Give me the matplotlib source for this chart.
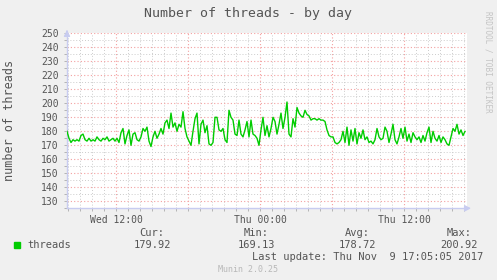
import numpy as np
import matplotlib
matplotlib.use("Agg")
import matplotlib.pyplot as plt

# threads, one sample every 10 minutes, first sample Wed 07:55
threads = [
    180, 175, 172, 174, 173, 174, 173, 177, 178, 174, 173, 175, 173, 174, 173, 176, 174, 173, 175, 174, 176, 173, 174, 175, 173,
    175, 172, 179, 182, 171, 177, 181, 170, 178, 179, 174, 173, 176, 182, 180, 183, 173, 169.13, 176, 180, 175, 178, 182, 178, 186,
    188, 182, 193, 183, 186, 180, 185, 183, 194, 182, 176, 173, 170, 180, 189, 193, 171, 185, 188, 179, 184, 171, 170, 172, 190,
    190, 181, 180, 182, 174, 172, 195, 190, 188, 178, 177, 188, 178, 176, 181, 187, 176, 188, 178, 177, 175, 170, 181, 190, 177,
    184, 176, 182, 190, 187, 178, 185, 193, 182, 190, 200.92, 178, 176, 189, 183, 197, 193, 191, 190, 195, 192, 191, 188, 189, 189,
    188, 189, 188, 188, 187, 181, 177, 176, 176, 172, 171, 172, 174, 180, 172, 183, 170, 181, 173, 182, 171, 179, 175, 181, 174,
    176, 172, 173, 171, 174, 182, 176, 174, 175, 183, 180, 172, 178, 185, 174, 171, 176, 182, 175, 183, 173, 178, 172, 179, 176,
    174, 176, 172, 177, 173, 179, 183, 172, 180, 175, 173, 177, 172, 176, 174, 171, 170, 176, 182, 180, 185, 178, 181, 177, 179.92,
]
start_hour = -16.083   # hours relative to Thu 00:00
step_hour = 1 / 6.0
x_range = (-16.083, 17.25)

tick_hours = [-12, -6, 0, 6, 12]
tick_labels = ["Wed 12:00", "", "Thu 00:00", "", "Thu 12:00"]
y_ticks = list(range(130, 251, 10))

legend_cols = ["Cur:", "Min:", "Avg:", "Max:"]
legend_vals = ["179.92", "169.13", "178.72", "200.92"]

mono = "DejaVu Sans Mono"
txt = "#555555"
bg = "#f0f0f0"
axcol = "#c8ccf0"

hours = start_hour + np.arange(len(threads)) * step_hour

fig = plt.figure(figsize=(4.97, 2.80), dpi=100, facecolor=bg)
ax = fig.add_axes([67 / 497, 1 - 208.3 / 280, 400 / 497, 175 / 280])
ax.set_facecolor("white")

ax.plot(hours, threads, color="#00cc00", lw=1.0, zorder=3)

ax.set_xlim(*x_range)
ax.set_ylim(125, 250)

ax.set_xticks(tick_hours)
ax.set_xticklabels(tick_labels)
ax.set_xticks(np.arange(-16, 18, 1), minor=True)
ax.set_yticks(y_ticks)
ax.set_yticks(np.arange(125, 251, 5), minor=True)

ax.grid(which="minor", color="#cccccc", linestyle=(0, (1, 2)), lw=0.7, zorder=1)
ax.grid(which="major", color="#f4a0a0", linestyle=(0, (1, 2)), lw=0.8, zorder=2)

for s in ["top", "right"]:
    ax.spines[s].set_visible(False)
for s in ["left", "bottom"]:
    ax.spines[s].set_color(axcol)
    ax.spines[s].set_linewidth(1.0)

ax.tick_params(which="both", color="#aaaaaa", length=2, width=0.6)
ax.tick_params(axis="y", which="major", labelsize=7, labelcolor=txt, pad=4)
ax.tick_params(axis="x", which="major", labelsize=7, labelcolor=txt, pad=3)
for lab in ax.get_xticklabels() + ax.get_yticklabels():
    lab.set_family(mono)

# axis arrows
ax.annotate("", xy=(0, 1.035), xytext=(0, 0.99), xycoords="axes fraction",
            arrowprops=dict(arrowstyle="-|>,head_width=0.18,head_length=0.35",
                            color=axcol, lw=1.0), annotation_clip=False)
ax.annotate("", xy=(1.017, 0), xytext=(0.995, 0), xycoords="axes fraction",
            arrowprops=dict(arrowstyle="-|>,head_width=0.18,head_length=0.35",
                            color=axcol, lw=1.0), annotation_clip=False)

def fx(px):
    return px / 497.0

def fy(py):
    return 1 - py / 280.0

fig.text(fx(248), fy(13), "Number of threads - by day", ha="center", va="center",
         family=mono, fontsize=9.5, color=txt)
fig.text(fx(10), fy(120), "number of threads", ha="center", va="center", rotation=90,
         family=mono, fontsize=8.5, color=txt)
fig.text(fx(488), fy(62), "RRDTOOL / TOBI OETIKER", ha="center", va="center", rotation=270,
         family=mono, fontsize=5.5, color="#c4c4c4")

# legend
fig.patches.append(plt.Rectangle((fx(14), fy(248)), 6 / 497, 6 / 280,
                                 transform=fig.transFigure, color="#00cc00"))
fig.text(fx(27), fy(245), "threads", ha="left", va="center", family=mono, fontsize=7.5, color=txt)
col_x = [152, 256, 357, 459]
for cx, head, val in zip(col_x, legend_cols, legend_vals):
    fig.text(fx(cx), fy(233), head, ha="center", va="center", family=mono, fontsize=7.5, color=txt)
    fig.text(fx(cx), fy(245), val, ha="center", va="center", family=mono, fontsize=7.5, color=txt)
fig.text(fx(483), fy(257), "Last update: Thu Nov  9 17:05:05 2017", ha="right", va="center",
         family=mono, fontsize=7.5, color=txt)
fig.text(fx(248), fy(269), "Munin 2.0.25", ha="center", va="center", family=mono,
         fontsize=6, color="#b8b8b8")

fig.savefig("out.png", dpi=100, facecolor=bg)
